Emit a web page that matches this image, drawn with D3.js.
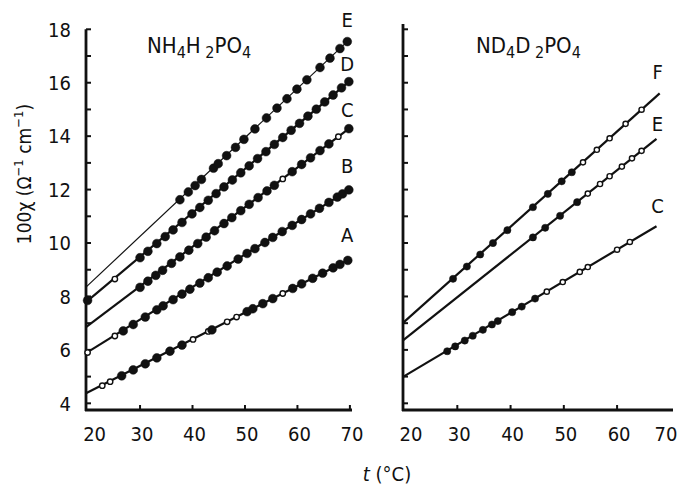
<!DOCTYPE html>
<html>
<head>
<meta charset="utf-8">
<script src="https://cdn.jsdelivr.net/npm/d3@7"></script>
<style>
  body { margin: 0; background: #fff; }
  text { font-family: "DejaVu Sans Condensed", "Liberation Sans Narrow", sans-serif; fill: #111; }
</style>
</head>
<body>
<script>
    // measured points [t (°C), 100χ, open?]  -- NH4H2PO4 panel
    var nhA = [[22.8,4.66,1],[24.3,4.81,1],[26.5,5.03,0],[28.7,5.25,0],[31,5.48,0],[33.2,5.70,0],[35.7,5.95,0],[38,6.18,0],
               [40.1,6.39,1],[43,6.69,1],[43.7,6.75,0],[46.6,7.05,1],[48.4,7.23,1],[50.4,7.43,0],[51.5,7.54,0],[53.4,7.73,0],
               [55.3,7.92,0],[57.2,8.11,1],[59.1,8.30,0],[60.8,8.47,0],[62.9,8.68,0],[64.8,8.87,0],[66.8,9.07,0],[68.1,9.20,0],[69.6,9.35,0]];
    var nhB = [[20,5.90,1],[25.2,6.52,1],[26.8,6.71,0],[28.7,6.95,0],[31,7.23,0],[33.2,7.50,0],[34.4,7.65,0],[36.3,7.88,0],
               [38,8.09,0],[39.5,8.27,0],[41.4,8.50,0],[43,8.70,0],[44.7,8.91,0],[46.6,9.14,0],[48.7,9.40,0],[50.4,9.61,0],
               [51.9,9.79,0],[53.8,10.02,0],[55.3,10.21,0],[57.1,10.43,0],[59,10.66,0],[60.8,10.88,0],[62.5,11.09,0],
               [64.2,11.30,0],[66,11.52,0],[67.6,11.72,0],[68.6,11.84,0],[69.8,11.99,0]];
    var nhC = [[30,8.34,0],[31.5,8.57,0],[33,8.79,0],[34.3,8.98,0],[36,9.24,0],[37.6,9.48,0],[39.3,9.73,0],[41,9.98,0],
               [42.6,10.22,0],[44.2,10.46,0],[46,10.73,0],[47.5,10.95,0],[49.2,11.21,0],[50.8,11.45,0],[52.5,11.70,0],
               [54.2,11.95,0],[55.6,12.16,0],[57.2,12.40,1],[59,12.67,0],[60.8,12.94,0],[62.5,13.19,0],[64.3,13.46,0],
               [66,13.71,0],[67.8,13.98,1],[69.8,14.28,0]];
    var nhD = [[20,7.85,0],[25.2,8.65,1],[30,9.45,0],[31.5,9.69,0],[33.2,9.98,0],[34.8,10.24,0],[36.3,10.49,0],[38,10.77,0],
               [39.9,11.09,0],[41.4,11.33,0],[43,11.60,0],[44.5,11.85,0],[46,12.10,0],[47.6,12.36,0],[49.2,12.63,0],
               [50.8,12.89,0],[52.4,13.16,0],[54,13.42,0],[55.6,13.69,0],[57.2,13.95,0],[58.8,14.22,0],[60.4,14.48,0],
               [62,14.75,0],[63.6,15.01,0],[65.2,15.28,0],[66.8,15.54,0],[68.4,15.81,0],[69.8,16.04,0]];
    var nhE = [[37.6,11.62,0],[39.2,11.91,0],[40.5,12.15,0],[41.7,12.38,0],[44,12.80,0],[44.9,12.97,0],[46.5,13.27,0],
               [48.2,13.58,0],[49.8,13.88,0],[51.9,14.27,0],[54.1,14.68,0],[56.1,15.05,0],[58,15.40,0],[59.9,15.76,0],
               [61.8,16.11,0],[64.3,16.57,0],[66.2,16.92,0],[68.1,17.28,0],[69.5,17.54,0]];

    // ND4D2PO4 panel
    var ndC = [[28.1,5.95,0],[29.6,6.13,0],[31.4,6.35,0],[32.9,6.53,0],[34.8,6.75,0],[36.5,6.95,0],[37.6,7.08,0],
               [40.3,7.41,0],[42.1,7.62,0],[44.6,7.92,0],[46.8,8.18,1],[49.8,8.54,1],[53,8.92,1],[54.5,9.10,1],
               [60,9.75,1],[62.4,10.04,1]];
    var ndE = [[44.2,10.21,0],[46.5,10.57,0],[49.3,11.02,0],[52.5,11.53,0],[54.5,11.85,1],[56.8,12.21,1],
               [58.6,12.50,1],[60.9,12.86,1],[62.8,13.17,1],[64.6,13.45,1]];
    var ndF = [[29.2,8.66,0],[31.8,9.12,0],[34.3,9.57,0],[36.7,10.00,0],[39.4,10.48,0],[44.2,11.34,0],[47,11.84,0],
               [49.6,12.31,0],[51.5,12.65,0],[53.6,13.02,1],[56.2,13.49,1],[58.6,13.92,1],[61.6,14.46,1],[64.6,14.99,1]];

    // fitted straight lines
    var nhLabels = ["A", "B", "C", "D", "E"];
    var nhFitT = [19.7, 70];
    var nhFitStart = [4.38, 5.88, 6.85, 7.79, 8.35];
    var nhFitEnd = [9.39, 12.01, 14.31, 16.07, 17.63];
    var nhLabelVal = [10.3, 12.9, 15.0, 16.7, 18.35];

    var ndLabels = ["C", "E", "F"];
    var ndFitStartT = 19.8;
    var ndFitEndT = [67.4, 67.4, 68];
    var ndFitStart = [4.99, 6.36, 7.01];
    var ndFitEnd = [10.63, 13.9, 15.6];
    var ndLabelVal = [11.38, 14.45, 16.4];

    var xTicks = [20, 30, 40, 50, 60, 70];
    var yTicks = [4, 6, 8, 10, 12, 14, 16, 18];

    var width = 678, height = 486;

    const svg = d3.select("body").append("svg")
        .attr("width", width)
        .attr("height", height);

    var y = d3.scaleLinear().domain([3.75, 18]).range([410, 29.3]);
    var xL = d3.scaleLinear().domain([19.7, 70.4]).range([86, 352]);
    var xR = d3.scaleLinear().domain([19.8, 70.5]).range([403, 673]);

    function drawFrame(x, yTop, xTickMarks) {
        var g = svg.append("g");
        // axes lines
        g.append("line").attr("x1", x.range()[0]).attr("x2", x.range()[0])
            .attr("y1", y(yTop)).attr("y2", y(3.75) + 1)
            .attr("stroke", "#111").attr("stroke-width", 2.8);
        g.append("line").attr("x1", x.range()[0] - 1).attr("x2", x.range()[1])
            .attr("y1", y(3.75)).attr("y2", y(3.75))
            .attr("stroke", "#111").attr("stroke-width", 2.8);
        // y ticks, every unit, pointing inward
        g.selectAll(".yt").data(d3.range(4, 19)).join("line")
            .attr("x1", x.range()[0]).attr("x2", x.range()[0] + 5)
            .attr("y1", d => y(d)).attr("y2", d => y(d))
            .attr("stroke", "#111").attr("stroke-width", 2);
        // x ticks
        g.selectAll(".xt").data(xTickMarks).join("line")
            .attr("x1", d => x(d)).attr("x2", d => x(d))
            .attr("y1", y(3.75)).attr("y2", y(3.75) - 5)
            .attr("stroke", "#111").attr("stroke-width", 2);
        // x tick labels
        g.selectAll(".xl").data(xTicks).join("text")
            .attr("x", d => Math.min(x(d) + (d == 20 ? 7 : 2), 666))
            .attr("y", 441)
            .attr("text-anchor", "middle")
            .attr("font-size", 20)
            .text(d => d);
    }

    drawFrame(xL, 18, [30, 40, 50, 60, 70]);
    drawFrame(xR, 18.2, [30, 40, 50, 60]);

    // y tick labels, left panel only
    svg.selectAll(".yl").data(yTicks).join("text")
        .attr("x", 71)
        .attr("y", d => y(d))
        .attr("dy", "0.36em")
        .attr("text-anchor", "end")
        .attr("font-size", 20)
        .text(d => d);

    // fitted lines
    nhLabels.forEach(function (lab, i) {
        svg.append("line")
            .attr("x1", xL(nhFitT[0])).attr("y1", y(nhFitStart[i]))
            .attr("x2", xL(nhFitT[1])).attr("y2", y(nhFitEnd[i]))
            .attr("stroke", "#111")
            .attr("stroke-width", lab == "E" ? 1.2 : 2.2);
        svg.append("text")
            .attr("x", xL(69.5)).attr("y", y(nhLabelVal[i]))
            .attr("dy", "0.36em").attr("text-anchor", "middle")
            .attr("font-size", 20).text(lab);
    });

    ndLabels.forEach(function (lab, i) {
        svg.append("line")
            .attr("x1", xR(ndFitStartT)).attr("y1", y(ndFitStart[i]))
            .attr("x2", xR(ndFitEndT[i])).attr("y2", y(ndFitEnd[i]))
            .attr("stroke", "#111").attr("stroke-width", 2.2);
        svg.append("text")
            .attr("x", xR(67.6)).attr("y", y(ndLabelVal[i]))
            .attr("dy", "0.36em").attr("text-anchor", "middle")
            .attr("font-size", 20).text(lab);
    });

    // data points
    function drawPoints(data, x, rFill, rOpen) {
        svg.append("g").selectAll("circle").data(data).join("circle")
            .attr("cx", d => x(d[0]))
            .attr("cy", d => y(d[1]))
            .attr("r", d => d[2] ? rOpen : rFill)
            .attr("fill", d => d[2] ? "#fff" : "#111")
            .attr("stroke", "#111")
            .attr("stroke-width", d => d[2] ? 1.4 : 0.5);
    }
    [nhA, nhB, nhC, nhD, nhE].forEach(s => drawPoints(s, xL, 4.4, 2.7));
    [ndC, ndE, ndF].forEach(s => drawPoints(s, xR, 3.6, 2.6));

    // panel titles with subscripts
    function formula(x0, parts) {
        var t = svg.append("text").attr("x", x0).attr("y", 53).attr("font-size", 22);
        parts.forEach(function (p) {
            t.append("tspan").text(p[0])
                .attr("font-size", p[1] ? 16 : 22)
                .attr("dy", p[1] ? 5 : (p[2] ? -5 : 0));
        });
    }
    formula(147, [["NH", 0], ["4", 1], ["H", 0, 1], [" 2", 1], ["PO", 0, 1], ["4", 1]]);
    formula(476, [["ND", 0], ["4", 1], ["D", 0, 1], [" 2", 1], ["PO", 0, 1], ["4", 1]]);

    // axis titles
    var yl = svg.append("text")
        .attr("transform", "translate(31,174) rotate(-90)")
        .attr("text-anchor", "middle")
        .attr("font-size", 19);
    yl.append("tspan").text("100χ  (Ω");
    yl.append("tspan").text("−1").attr("font-size", 13).attr("dy", -8);
    yl.append("tspan").text(" cm").attr("dy", 8);
    yl.append("tspan").text("−1").attr("font-size", 13).attr("dy", -8);
    yl.append("tspan").text(")").attr("dy", 8);

    var xlab = svg.append("text")
        .attr("x", 387).attr("y", 481)
        .attr("text-anchor", "middle")
        .attr("font-size", 20);
    xlab.append("tspan").text("t").attr("font-style", "italic");
    xlab.append("tspan").text(" (°C)");
</script>
</body>
</html>
